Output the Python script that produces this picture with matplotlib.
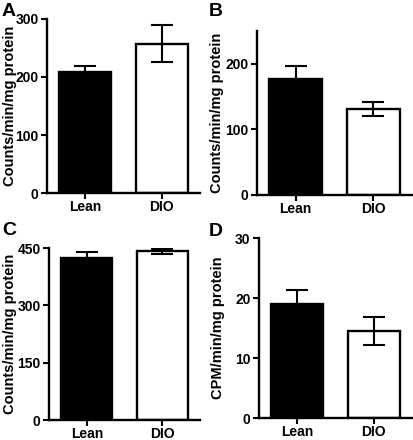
import matplotlib
matplotlib.use("Agg")
import matplotlib.pyplot as plt
from matplotlib.transforms import blended_transform_factory

plt.rcParams['font.family'] = ['Liberation Sans', 'DejaVu Sans']
plt.rcParams['font.weight'] = 'bold'

groups = ["Lean", "DIO"]
vals_A = [208, 257]
err_A = [11, 32]
vals_B = [177, 131]
err_B = [20, 11]
vals_C = [424, 441]
err_C = [15, 7]
vals_D = [19.0, 14.5]
err_D = [2.3, 2.3]

ylabels = ["Counts/min/mg protein", "Counts/min/mg protein",
           "Counts/min/mg protein", "CPM/min/mg protein"]
letters = ["A", "B", "C", "D"]
ylims = [(0, 300), (0, 250), (0, 450), (0, 30)]
yticks = [[0, 100, 200, 300], [0, 100, 200], [0, 150, 300, 450], [0, 10, 20, 30]]

W, H = 414, 440
fig = plt.figure(figsize=(W / 100, H / 100), dpi=100)

# axes boxes in pixels: left, top, right, bottom
boxes = [(47, 19, 200, 193), (257, 31, 412, 195), (49, 248, 200, 420), (259, 238, 412, 418)]
letter_pos = [(2, 3), (209, 3), (2, 222), (209, 223)]
label_x = [17, 224, 17, 225]
datasets = [(vals_A, err_A), (vals_B, err_B), (vals_C, err_C), (vals_D, err_D)]

for i in range(4):
    l, t, r, b = boxes[i]
    ax = fig.add_axes([l / W, 1 - b / H, (r - l) / W, (b - t) / H])
    vals, errs = datasets[i]
    x = [0, 1]
    ax.bar(x, vals, width=0.68, color=["black", "white"], edgecolor="black",
           linewidth=1.7, zorder=2)
    ax.errorbar(x, vals, yerr=errs, fmt="none", ecolor="black", elinewidth=1.5,
                capsize=8, capthick=1.5, zorder=3)
    ax.set_xlim(-0.5, 1.5)
    ax.set_ylim(*ylims[i])
    ax.set_yticks(yticks[i])
    ax.set_xticks(x)
    ax.set_xticklabels(groups)
    for s in ["top", "right"]:
        ax.spines[s].set_visible(False)
    for s in ["left", "bottom"]:
        ax.spines[s].set_linewidth(1.7)
    ax.tick_params(axis="both", width=1.5, length=4, labelsize=10)
    ax.tick_params(axis="x", pad=1)
    ax.tick_params(axis="y", pad=2)
    for lab in ax.get_xticklabels() + ax.get_yticklabels():
        lab.set_fontweight("bold")
    ax.set_ylabel(ylabels[i], fontsize=10.5, fontweight="bold")
    ax.yaxis.set_label_coords(label_x[i] / W, 0.5,
                              transform=blended_transform_factory(fig.transFigure, ax.transAxes))
    lx, ly = letter_pos[i]
    fig.text(lx / W, 1 - ly / H, letters[i], fontsize=14, fontweight="bold",
             ha="left", va="top")

fig.savefig("out.png", dpi=100)
